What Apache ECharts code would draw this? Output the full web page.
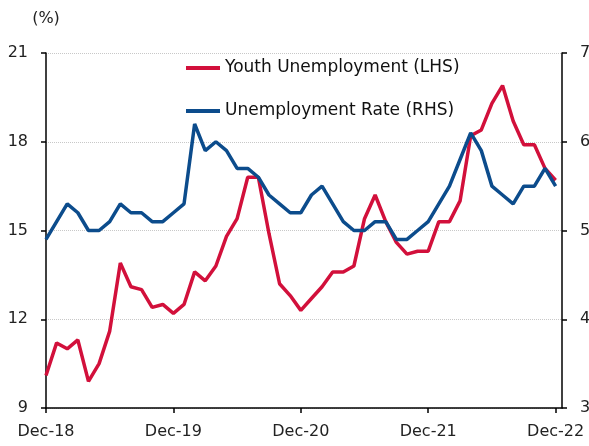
<!DOCTYPE html>
<html>
<head>
<meta charset="utf-8">
<script src="https://cdn.jsdelivr.net/npm/echarts@6/dist/echarts.min.js"></script>
<style>
  html, body { margin: 0; padding: 0; background: #fff; }
  #chart { width: 589px; height: 446px; }
</style>
</head>
<body>
<div id="chart"></div>
<script>
// monthly, Dec-18 .. Dec-22
const months = [
  'Dec-18', 'Jan-19', 'Feb-19', 'Mar-19', 'Apr-19', 'May-19', 'Jun-19', 'Jul-19', 'Aug-19', 'Sep-19', 'Oct-19', 'Nov-19',
  'Dec-19', 'Jan-20', 'Feb-20', 'Mar-20', 'Apr-20', 'May-20', 'Jun-20', 'Jul-20', 'Aug-20', 'Sep-20', 'Oct-20', 'Nov-20',
  'Dec-20', 'Jan-21', 'Feb-21', 'Mar-21', 'Apr-21', 'May-21', 'Jun-21', 'Jul-21', 'Aug-21', 'Sep-21', 'Oct-21', 'Nov-21',
  'Dec-21', 'Jan-22', 'Feb-22', 'Mar-22', 'Apr-22', 'May-22', 'Jun-22', 'Jul-22', 'Aug-22', 'Sep-22', 'Oct-22', 'Nov-22',
  'Dec-22'
];

const youthUnemployment = [
  10.1, 11.2, 11.0, 11.3, 9.9, 10.5, 11.6, 13.9, 13.1, 13.0, 12.4, 12.5,
  12.2, 12.5, 13.6, 13.3, 13.8, 14.8, 15.4, 16.8, 16.8, 14.9, 13.2, 12.8,
  12.3, 12.7, 13.1, 13.6, 13.6, 13.8, 15.4, 16.2, 15.3, 14.6, 14.2, 14.3,
  14.3, 15.3, 15.3, 16.0, 18.2, 18.4, 19.3, 19.9, 18.7, 17.9, 17.9, 17.1,
  16.7
];

const unemploymentRate = [
  4.9, 5.1, 5.3, 5.2, 5.0, 5.0, 5.1, 5.3, 5.2, 5.2, 5.1, 5.1,
  5.2, 5.3, 6.2, 5.9, 6.0, 5.9, 5.7, 5.7, 5.6, 5.4, 5.3, 5.2,
  5.2, 5.4, 5.5, 5.3, 5.1, 5.0, 5.0, 5.1, 5.1, 4.9, 4.9, 5.0,
  5.1, 5.3, 5.5, 5.8, 6.1, 5.9, 5.5, 5.4, 5.3, 5.5, 5.5, 5.7,
  5.5
];

const tickMonths = ['Dec-18', 'Dec-19', 'Dec-20', 'Dec-21', 'Dec-22'];
const tickIdx = tickMonths.map(m => months.indexOf(m));

const FONT = 'DejaVu Sans';
const RED = '#d2103b';
const BLUE = '#0c4c8c';

const chart = echarts.init(document.getElementById('chart'));

const axisLine = { show: true, lineStyle: { color: '#000', width: 1.5 } };
const axisTick = { show: true, length: 5, lineStyle: { color: '#000', width: 1.5 } };

chart.setOption({
  animation: false,
  grid: { left: 46, right: 27, top: 53, bottom: 38, containLabel: false, outerBoundsMode: 'none' },
  legend: {
    orient: 'vertical',
    left: 186,
    top: 58,
    padding: 0,
    itemGap: 23,
    itemWidth: 34,
    itemHeight: 4,
    icon: 'rect',
    textStyle: { fontFamily: FONT, fontSize: 17, color: '#111', lineHeight: 20 },
    data: ['Youth Unemployment (LHS)', 'Unemployment Rate (RHS)']
  },
  xAxis: {
    type: 'value',
    min: 0,
    max: 48.6,
    interval: 12,
    axisLine: axisLine,
    axisTick: Object.assign({ customValues: tickIdx }, axisTick),
    splitLine: { show: false },
    axisLabel: {
      customValues: tickIdx,
      margin: 16,
      fontFamily: FONT,
      fontSize: 16,
      color: '#222',
      formatter: v => months[v] || ''
    }
  },
  yAxis: [
    {
      type: 'value',
      position: 'left',
      min: 9,
      max: 21,
      interval: 3,
      name: '(%)',
      nameLocation: 'end',
      nameGap: 26,
      nameTextStyle: { fontFamily: FONT, fontSize: 16, color: '#222', verticalAlign: 'bottom', align: 'center' },
      axisLine: axisLine,
      axisTick: axisTick,
      axisLabel: { margin: 18, fontFamily: FONT, fontSize: 16, color: '#222' },
      splitLine: { show: true, lineStyle: { color: '#c8c8c8', type: 'dotted', width: 1 } }
    },
    {
      type: 'value',
      position: 'right',
      min: 3,
      max: 7,
      interval: 1,
      axisLine: axisLine,
      axisTick: axisTick,
      axisLabel: { margin: 18, fontFamily: FONT, fontSize: 16, color: '#222' },
      splitLine: { show: false }
    }
  ],
  series: [
    {
      name: 'Youth Unemployment (LHS)',
      type: 'line',
      yAxisIndex: 0,
      symbol: 'none',
      lineStyle: { color: RED, width: 3.5 },
      itemStyle: { color: RED },
      data: youthUnemployment.map((v, i) => [i, v])
    },
    {
      name: 'Unemployment Rate (RHS)',
      type: 'line',
      yAxisIndex: 1,
      symbol: 'none',
      lineStyle: { color: BLUE, width: 3.5 },
      itemStyle: { color: BLUE },
      data: unemploymentRate.map((v, i) => [i, v])
    }
  ]
});
</script>
</body>
</html>
